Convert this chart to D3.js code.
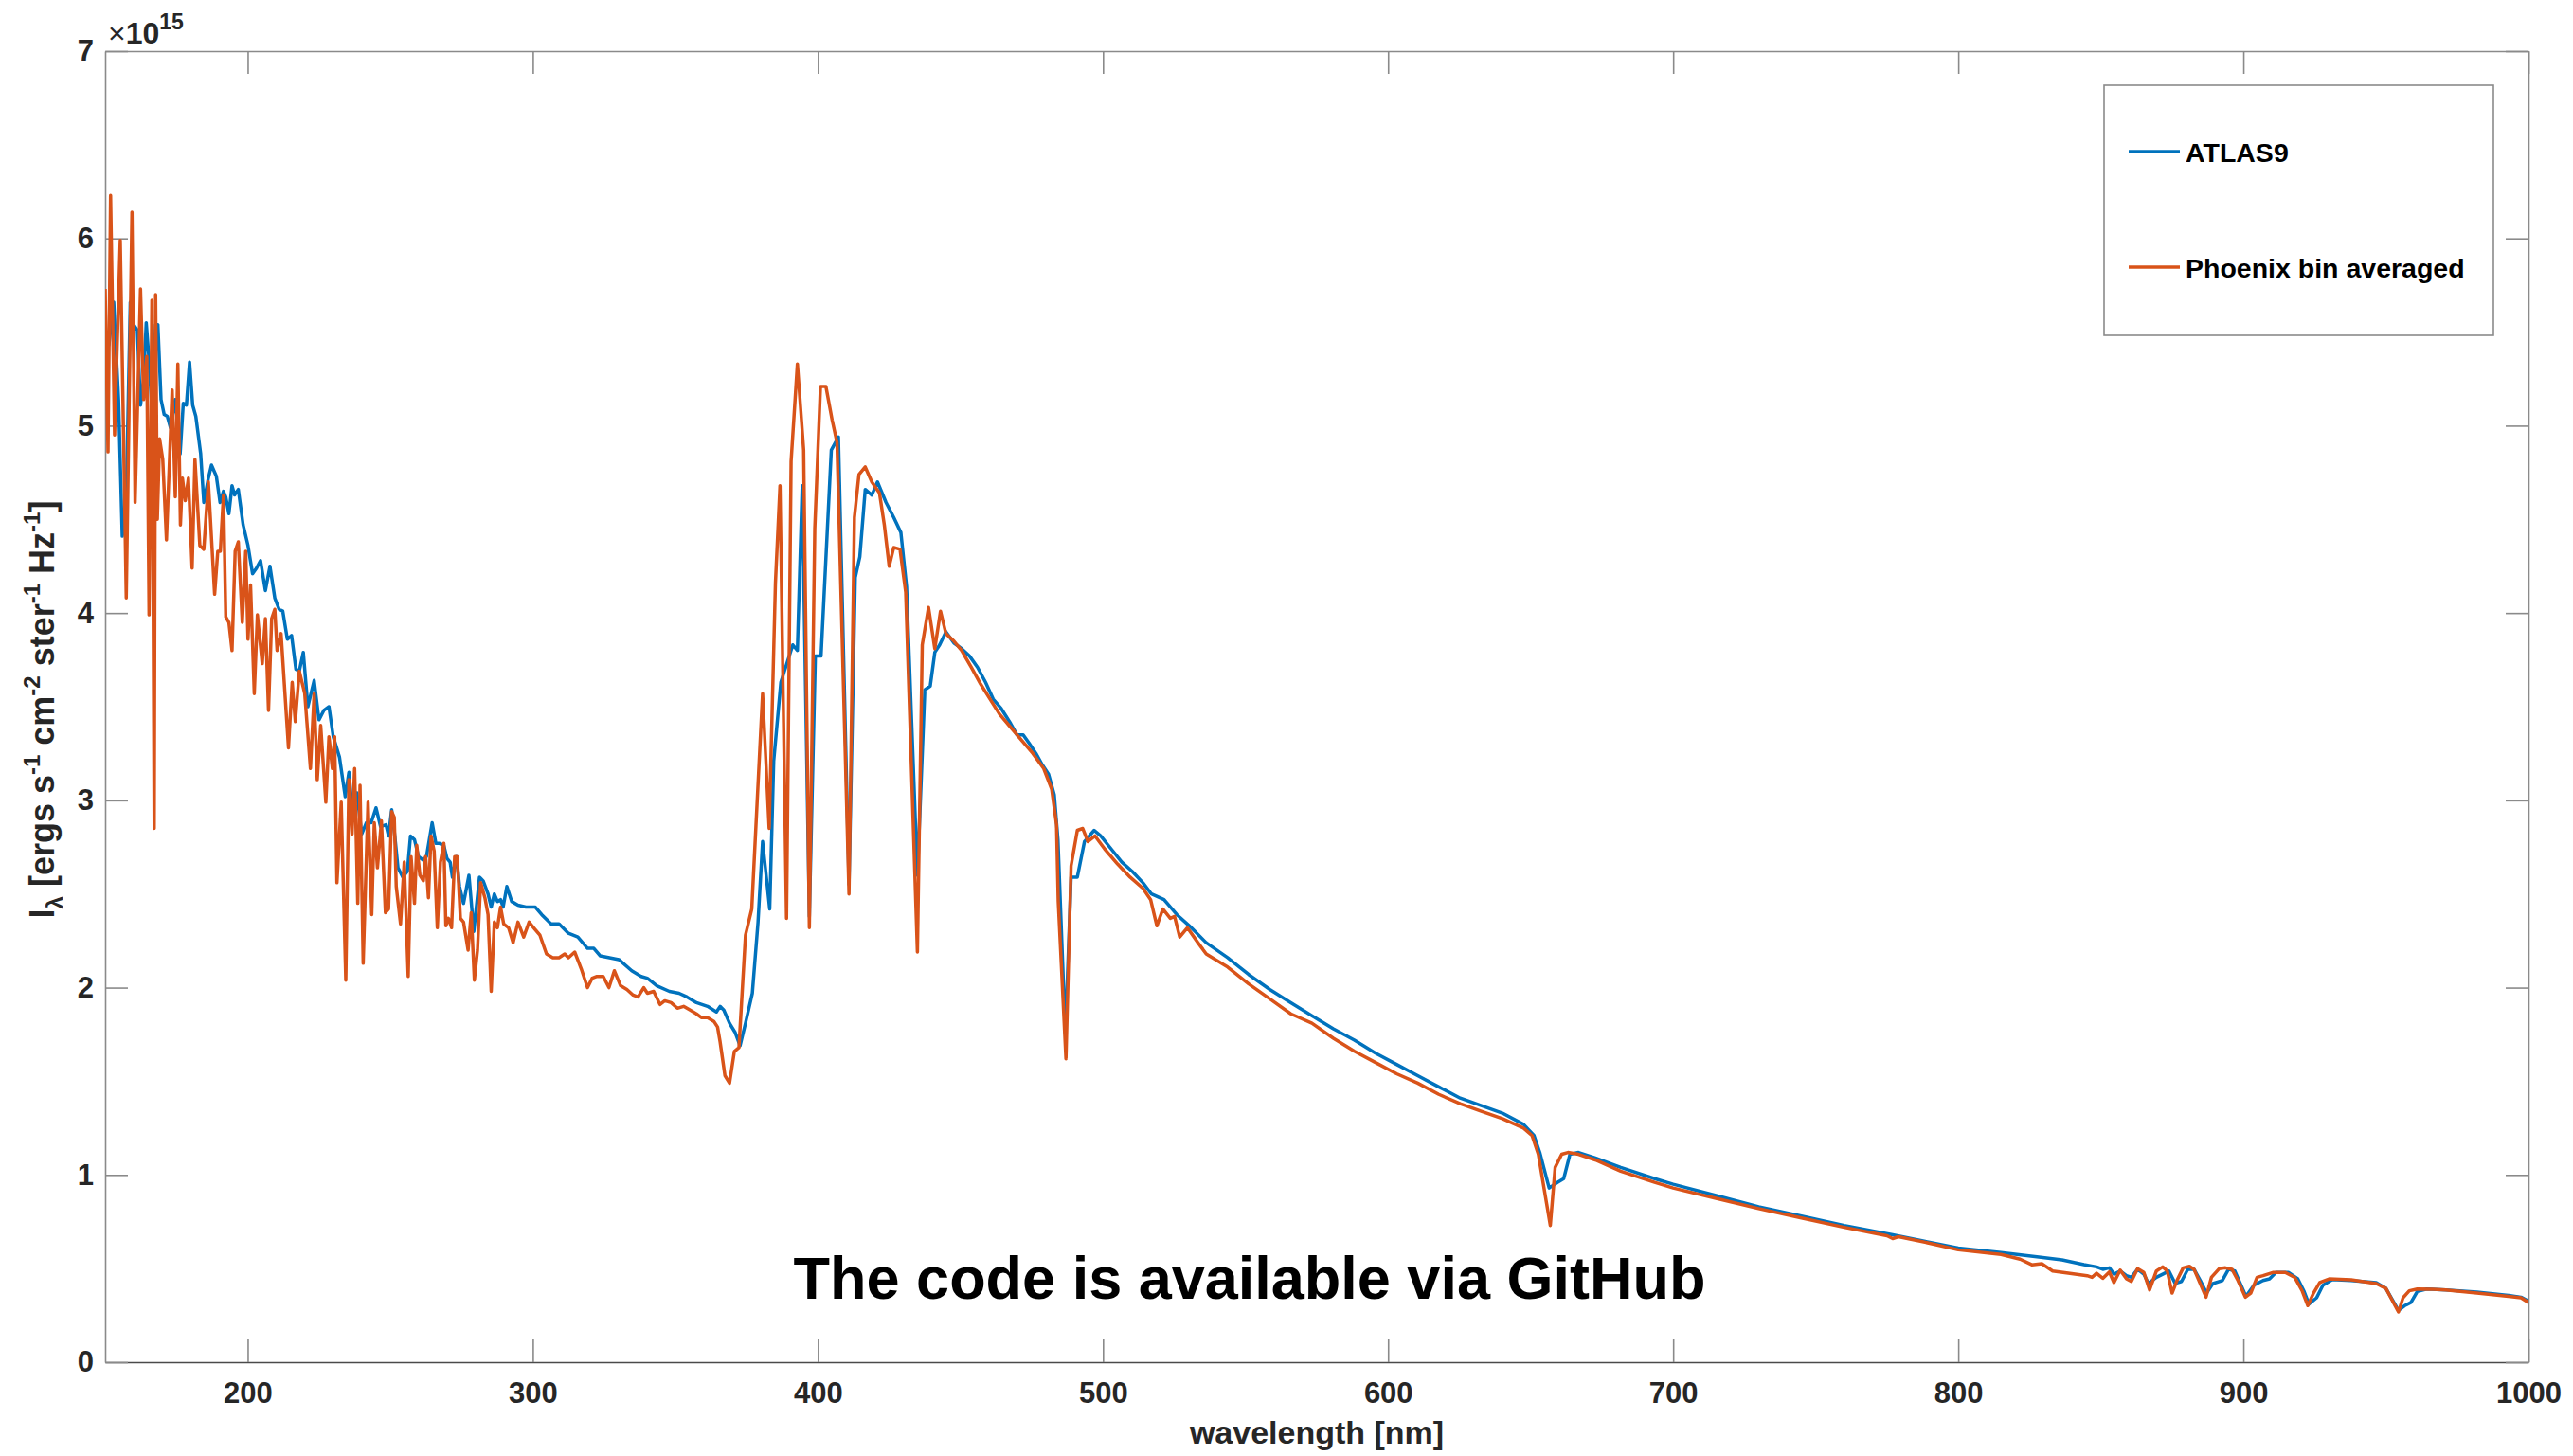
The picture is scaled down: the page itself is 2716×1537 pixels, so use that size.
<!DOCTYPE html>
<html>
<head>
<meta charset="utf-8">
<script src="https://cdn.jsdelivr.net/npm/d3@7"></script>
<style>
  html, body { margin: 0; padding: 0; background: #fff; }
  svg { display: block; font-family: "Liberation Sans", Arial, Helvetica, sans-serif; }
</style>
</head>
<body>
<svg id="chart" width="2716" height="1537"></svg>
<script>
// Specific intensity I_lambda in units of 1e15 ergs s^-1 cm^-2 ster^-1 Hz^-1

const atlasWavelength = [
  150, 151.3, 153, 154.7, 156, 157.4, 158.8, 160, 161.3, 162.4, 163.5, 164.4, 165.2, 166.3, 167.7, 168.5,
  169.6, 170.7, 171.8, 172.9, 174.6, 176.3, 177.4, 178.5, 179.6, 180.7, 181.8, 183.5, 184.6, 186.2, 187.3,
  189, 190.3, 191.5, 192.3, 193.4, 194.5, 195.4, 196.7, 198.4, 200.1, 201.7, 203.1, 204.5, 206.2, 207.8,
  209.5, 211, 212.3, 213.9, 215.4, 216.9, 218.1, 219.5, 221.1, 223.3, 225, 226.7, 228.5, 230, 232.2, 234.2,
  235.5, 236.6, 238.3, 240, 241.6, 243.3, 245, 246.6, 248.5, 249.4, 250.5, 251.6, 252.7, 254.4, 256, 257.1,
  258.5, 259.9, 261.6, 262.7, 264.7, 266, 267.3, 268.8, 269.9, 271, 271.8, 273.2, 274.3, 275.7, 277.6,
  279.3, 281.3, 282.6, 284.3, 285.4, 286.5, 287.6, 288.7, 289.6, 290.9, 292.6, 294.8, 297.6, 299.2, 300.9,
  303.1, 306.4, 309.2, 312.5, 315.8, 319.2, 321.4, 323.6, 326.9, 330.2, 334.7, 338, 340.2, 343.5, 347.9,
  351.3, 354.1, 357.4, 361.3, 364.4, 365.7, 367, 369, 371, 372.7, 374.6, 377, 379, 380.6, 383.1, 384.5,
  387, 391.2, 392.8, 394.5, 397, 399.1, 401.1, 404.7, 407.2, 410.9, 413.1, 414.7, 416.6, 418.9, 420.9,
  423.9, 426.6, 429.1, 431.1, 434.9, 437.5, 439.4, 441, 442.7, 444.9, 447.7, 450.4, 453.2, 456, 458.8,
  461.5, 464.3, 467.6, 469.8, 472, 474.3, 476.5, 478.7, 480.9, 482.9, 484.2, 486.8, 488.8, 491, 493.5,
  496.9, 499.2, 502.9, 506.6, 510.3, 514, 517, 521.4, 525.9, 530.3, 536.2, 543.7, 551.1, 558.5, 565.9,
  573.3, 580.8, 588.2, 595.6, 603, 610.4, 617.8, 625.3, 632.7, 640.1, 647.5, 651.2, 653.2, 656.5, 659.4,
  661.6, 663.8, 666.8, 672.7, 681.6, 693.5, 700, 715, 730, 745, 760, 777, 790, 800, 815, 827.6, 836.4,
  844.1, 848.5, 850.7, 853, 854.6, 856.8, 859, 860.7, 862.9, 865.1, 866.7, 869.5, 871.7, 873.9, 876.1,
  878.3, 880.5, 882.7, 884.9, 887.1, 889.3, 892.6, 894.8, 897, 900.9, 903.7, 906.9, 909.2, 911.4, 915.8,
  919.1, 921.3, 923, 925.7, 927.9, 931.2, 937.8, 946.6, 950, 954.4, 956.6, 958.8, 961, 964.3, 971, 981.9,
  993, 997.4, 1000
];
const atlasIntensity = [
  5.50, 5.43, 5.66, 5.14, 4.41, 4.61, 5.66, 5.54, 5.51, 5.11, 5.25, 5.55, 5.39, 5.11, 5.54, 5.54,
  5.14, 5.06, 5.05, 4.99, 5.14, 4.85, 5.12, 5.11, 5.34, 5.11, 5.05, 4.85, 4.59, 4.72, 4.79,
  4.73, 4.59, 4.65, 4.62, 4.53, 4.68, 4.63, 4.66, 4.47, 4.36, 4.21, 4.24, 4.28, 4.12, 4.25,
  4.08, 4.02, 4.01, 3.86, 3.88, 3.70, 3.69, 3.79, 3.50, 3.64, 3.43, 3.48, 3.50, 3.34, 3.23, 3.02,
  3.15, 2.96, 3.04, 2.82, 2.88, 2.88, 2.96, 2.86, 2.87, 2.81, 2.95, 2.81, 2.64, 2.59, 2.62, 2.81,
  2.79, 2.70, 2.68, 2.70, 2.88, 2.77, 2.77, 2.76, 2.69, 2.67, 2.59, 2.70, 2.54, 2.45, 2.60,
  2.30, 2.59, 2.57, 2.50, 2.43, 2.50, 2.46, 2.47, 2.43, 2.54, 2.46, 2.44, 2.43, 2.43, 2.43,
  2.39, 2.34, 2.34, 2.29, 2.27, 2.21, 2.21, 2.17, 2.16, 2.15, 2.09, 2.06, 2.05, 2.01, 1.98,
  1.97, 1.95, 1.92, 1.90, 1.87, 1.90, 1.88, 1.81, 1.76, 1.69, 1.81, 1.97, 2.35, 2.78, 2.42, 3.21,
  3.63, 3.83, 3.80, 4.68, 2.38, 3.77, 3.77, 4.87, 4.94, 2.55, 4.19, 4.30, 4.66, 4.63, 4.70,
  4.59, 4.51, 4.43, 4.14, 2.60, 3.59, 3.61, 3.79, 3.83, 3.90, 3.84, 3.81, 3.77, 3.71, 3.63,
  3.54, 3.49, 3.41, 3.35, 3.35, 3.30, 3.25, 3.19, 3.14, 3.03, 2.79, 1.75, 2.59, 2.59, 2.78,
  2.84, 2.81, 2.74, 2.67, 2.62, 2.56, 2.50, 2.47, 2.39, 2.33, 2.24, 2.16, 2.07, 1.99, 1.92,
  1.85, 1.78, 1.72, 1.65, 1.59, 1.53, 1.47, 1.41, 1.37, 1.33, 1.27, 1.21, 1.12, 0.93, 0.96,
  0.98, 1.11, 1.12, 1.09, 1.04, 0.98, 0.95, 0.89, 0.83, 0.78, 0.73, 0.68, 0.64, 0.61, 0.585, 0.563, 0.546,
  0.521, 0.509, 0.496, 0.504, 0.470, 0.487, 0.462, 0.453, 0.496, 0.470, 0.420, 0.453, 0.470, 0.487, 0.420,
  0.431, 0.496, 0.496, 0.436, 0.369, 0.420, 0.436, 0.496, 0.487, 0.352, 0.411, 0.436, 0.445, 0.479, 0.479,
  0.445, 0.378, 0.310, 0.344, 0.411, 0.441, 0.436, 0.425, 0.394, 0.276, 0.302, 0.319, 0.378, 0.391, 0.386, 0.374,
  0.357, 0.347, 0.327
];

const phoenixWavelength = [
  150, 151, 151.9, 153.3, 155.3, 157.4, 159.4, 160.5, 162.4, 163.5, 164.6, 165.4, 166.4, 167.2, 167.7,
  168.3, 169.1, 170.2, 171.5, 173.5, 174.6, 175.5, 176.4, 177.1, 178.1, 179.2, 180.5, 181.5, 183.2, 184.6,
  186.2, 188.4, 189.5, 190.4, 191.5, 192.3, 193.4, 194.5, 195.6, 196.7, 198.1, 199.3, 200.1, 201, 202.3,
  203.4, 205.1, 206.2, 207.3, 208.4, 209.5, 210.3, 211.7, 214.3, 215.6, 216.7, 218.1, 220, 222, 223.3,
  224.4, 225.6, 227.4, 228.5, 229.7, 230.5, 231.3, 232.8, 234.4, 235.5, 236.6, 237.5, 238.6, 239.4, 240.5,
  242.2, 243.5, 244.4, 245.5, 246.9, 248.3, 249.4, 250.5, 251.4, 252.1, 253.6, 254.9, 256.3, 257.3, 258.5,
  259.3, 260.4, 261.6, 262.4, 263.4, 264.3, 265.4, 266.5, 267.6, 268.8, 269.5, 270.4, 271.5, 272.6, 273.5,
  274.6, 275.7, 277.3, 278.4, 279.5, 280.6, 281.7, 283.2, 284.3, 285.4, 286.5, 287.6, 288.7, 289.8, 291.5,
  293.1, 294.8, 296.8, 298.7, 300.3, 302.5, 304.8, 307, 309.2, 311.2, 312.5, 314.7, 317, 319.2, 320.8,
  322.5, 324.7, 326.7, 328.6, 330.8, 333, 335.2, 336.9, 338.9, 340.2, 342.4, 344.6, 346.3, 348.5, 350.7,
  352.9, 355.2, 357.4, 359.1, 361.3, 363.5, 364.8, 365.7, 367.4, 369, 370.7, 372.3, 374.6, 376.8, 380.6,
  382.9, 385.1, 386.7, 389, 390.6, 392.8, 395, 397, 398.9, 400.9, 402.8, 405, 406.7, 410.9, 412.8, 414.4,
  416.6, 418.9, 421.6, 423.3, 425, 426.6, 428.8, 430.8, 434.9, 436.6, 438.8, 441, 443, 444.9, 447.7,
  450.4, 453.8, 457.1, 460.4, 463.7, 467.6, 471.5, 475.4, 479.2, 482, 483.7, 484.3, 487, 488.8, 491,
  492.9, 494.7, 497.2, 500.6, 505.1, 509.5, 514, 516.7, 518.9, 521, 523.6, 525.1, 526.9, 529.6, 533.3,
  536.2, 543.7, 551.1, 558.5, 565.9, 573.3, 580.8, 588.2, 595.6, 603, 610.4, 617.8, 625.3, 632.7, 640.1,
  647.5, 650.5, 652.7, 656.9, 658.6, 660.9, 663.1, 666.8, 672.7, 681.6, 693.5, 700, 715, 730, 745, 760,
  775, 777, 779, 790, 800, 815, 821.7, 825.8, 829.3, 833.1, 838.6, 845.2, 846.9, 848.5, 850.7, 853,
  854.6, 856.8, 859, 860.7, 862.9, 865.1, 867.1, 869.5, 871.7, 873.3, 875, 876.7, 878.9, 881.1, 882.7,
  886.9, 888.8, 891.5, 893.7, 896, 898.1, 900.7, 902.6, 904.8, 906.9, 910.3, 914.7, 918, 920.7, 922.6,
  924.6, 926.8, 930.1, 937.8, 946.6, 950, 954.4, 956, 958.2, 961, 966.5, 971, 981.9, 993, 997.4, 1000
];
const phoenixIntensity = [
  5.73, 4.86, 6.23, 4.95, 5.99, 4.08, 6.14, 4.59, 5.73, 5.14, 5.37, 3.99, 5.67, 2.85, 5.70,
  4.50, 4.93, 4.82, 4.39, 5.19, 4.62, 5.33, 4.47, 4.72, 4.60, 4.72, 4.24, 4.82, 4.36, 4.34,
  4.70, 4.10, 4.33, 4.33, 4.63, 3.98, 3.95, 3.80, 4.33, 4.38, 3.95, 4.33, 3.86, 4.15, 3.57,
  3.99, 3.73, 3.97, 3.48, 3.97, 4.02, 3.80, 3.89, 3.28, 3.63, 3.42, 3.69, 3.57, 3.17, 3.57,
  3.11, 3.40, 2.99, 3.34, 3.17, 3.34, 2.56, 2.99, 2.04, 3.11, 2.82, 3.17, 2.45, 3.08, 2.13,
  2.99, 2.39, 2.88, 2.64, 2.89, 2.40, 2.42, 2.94, 2.91, 2.54, 2.34, 2.67, 2.06, 2.70, 2.45,
  2.76, 2.60, 2.57, 2.70, 2.48, 2.81, 2.73, 2.32, 2.67, 2.77, 2.33, 2.37, 2.32, 2.70, 2.70,
  2.37, 2.35, 2.20, 2.40, 2.04, 2.20, 2.56, 2.48, 2.39, 1.98, 2.35, 2.32, 2.43, 2.34, 2.32,
  2.24, 2.35, 2.27, 2.35, 2.32, 2.28, 2.18, 2.16, 2.16, 2.18, 2.16, 2.19, 2.10, 2.00, 2.05,
  2.06, 2.06, 2.00, 2.09, 2.01, 1.99, 1.96, 1.95, 2.00, 1.97, 1.98, 1.91, 1.93, 1.92, 1.89,
  1.90, 1.88, 1.86, 1.84, 1.84, 1.82, 1.79, 1.71, 1.53, 1.49, 1.66, 1.68, 2.28, 2.42, 3.57,
  2.85, 4.16, 4.68, 2.37, 4.81, 5.33, 4.87, 2.32, 4.45, 5.21, 5.21, 5.03, 4.91, 2.50, 4.51, 4.74,
  4.78, 4.70, 4.64, 4.47, 4.25, 4.35, 4.34, 4.11, 2.19, 3.83, 4.03, 3.81, 4.01, 3.89, 3.85,
  3.80, 3.71, 3.62, 3.54, 3.46, 3.39, 3.32, 3.25, 3.17, 3.06, 2.87, 2.46, 1.62, 2.65, 2.84,
  2.85, 2.78, 2.81, 2.74, 2.66, 2.59, 2.53, 2.47, 2.33, 2.42, 2.37, 2.38, 2.27, 2.32, 2.24,
  2.18, 2.11, 2.02, 1.94, 1.86, 1.81, 1.73, 1.66, 1.60, 1.54, 1.49, 1.43, 1.38, 1.34, 1.30,
  1.25, 1.21, 1.11, 0.73, 1.04, 1.11, 1.12, 1.11, 1.08, 1.02, 0.96, 0.93, 0.875, 0.82, 0.77, 0.72,
  0.675, 0.66, 0.67, 0.635, 0.60, 0.575, 0.55, 0.52, 0.526, 0.487, 0.475, 0.462, 0.453, 0.475, 0.448, 0.482,
  0.425, 0.492, 0.445, 0.431, 0.499, 0.479, 0.386, 0.487, 0.509, 0.487, 0.369, 0.436, 0.504, 0.512, 0.496,
  0.347, 0.453, 0.499, 0.504, 0.496, 0.436, 0.347, 0.369, 0.453, 0.462, 0.479, 0.479, 0.453, 0.378, 0.302,
  0.369, 0.425, 0.445, 0.440, 0.420, 0.394, 0.268, 0.344, 0.381, 0.391, 0.389, 0.386, 0.369, 0.352, 0.344, 0.319
];

const seriesNames = ["ATLAS9", "Phoenix bin averaged"];
const seriesColors = ["#0072BD", "#D95319"];
const xTickValues = [200, 300, 400, 500, 600, 700, 800, 900, 1000];
const yTickValues = [0, 1, 2, 3, 4, 5, 6, 7];
const xLabel = "wavelength [nm]";
const exponentLabel = "15";
const noteText = "The code is available via GitHub";

const svg = d3.select("#chart");
const plotLeft = 111, plotRight = 2669, plotTop = 54, plotBottom = 1438;

const x = d3.scaleLinear().domain([150, 1000]).range([plotLeft, plotRight]);
const y = d3.scaleLinear().domain([0, 7]).range([plotBottom, plotTop]);

const textColor = "#262626";
const tickLen = 24;
const plainNumber = d3.format("d");

// axes: labelled bottom/left, bare ticks on top/right to close the box
const gx = svg.append("g").attr("transform", `translate(0,${plotBottom})`)
  .call(d3.axisBottom(x).tickValues(xTickValues).tickFormat(plainNumber)
    .tickSizeInner(-tickLen).tickSizeOuter(0).tickPadding(21));
const gy = svg.append("g").attr("transform", `translate(${plotLeft},0)`)
  .call(d3.axisLeft(y).tickValues(yTickValues).tickFormat(plainNumber)
    .tickSizeInner(-tickLen).tickSizeOuter(0).tickPadding(12));
const gt = svg.append("g").attr("transform", `translate(0,${plotTop})`)
  .call(d3.axisTop(x).tickValues(xTickValues).tickSizeInner(-tickLen).tickSizeOuter(0).tickFormat(""));
const gr = svg.append("g").attr("transform", `translate(${plotRight},0)`)
  .call(d3.axisRight(y).tickValues(yTickValues).tickSizeInner(-tickLen).tickSizeOuter(0).tickFormat(""));

[gx, gy, gt, gr].forEach(g => {
  g.select(".domain").attr("stroke", "#8a8a8a").attr("stroke-width", 1.6);
  g.selectAll(".tick line").attr("stroke", "#8a8a8a").attr("stroke-width", 1.6);
  g.selectAll(".tick text")
    .attr("fill", textColor)
    .style("font-family", "'Liberation Sans', Arial, sans-serif")
    .style("font-size", "31px")
    .style("font-weight", "bold");
});
gx.select(".domain").attr("stroke", "#4a4a4a");

// spectra
const atlas = atlasWavelength.map((w, i) => [w, atlasIntensity[i]]);
const phoenix = phoenixWavelength.map((w, i) => [w, phoenixIntensity[i]]);
const line = d3.line().x(d => x(d[0])).y(d => y(d[1]));

svg.append("defs").append("clipPath").attr("id", "plotclip")
  .append("rect").attr("x", plotLeft).attr("y", plotTop)
  .attr("width", plotRight - plotLeft).attr("height", plotBottom - plotTop);

const plot = svg.append("g").attr("clip-path", "url(#plotclip)");
[atlas, phoenix].forEach((data, i) => {
  plot.append("path")
    .datum(data)
    .attr("d", line)
    .attr("fill", "none")
    .attr("stroke", seriesColors[i])
    .attr("stroke-width", 3.5)
    .attr("stroke-linejoin", "round");
});

// exponent multiplier above the y axis
const expo = svg.append("text")
  .attr("x", 114).attr("y", 46)
  .attr("fill", textColor)
  .style("font-size", "32px");
expo.append("tspan").text("\u00d7");
expo.append("tspan").style("font-weight", "bold").text("10");
expo.append("tspan").attr("dy", -15).style("font-size", "23px").style("font-weight", "bold").text(exponentLabel);

// axis titles
svg.append("text")
  .attr("x", (plotLeft + plotRight) / 2).attr("y", 1524)
  .attr("text-anchor", "middle")
  .attr("fill", textColor)
  .style("font-size", "34px").style("font-weight", "bold")
  .text(xLabel);

const yl = svg.append("text")
  .attr("transform", "translate(57,749) rotate(-90)")
  .attr("text-anchor", "middle")
  .attr("fill", textColor)
  .style("font-size", "36px").style("font-weight", "bold");
const supSize = "24px";
yl.append("tspan").text("I");
yl.append("tspan").attr("dy", 9).style("font-size", supSize).text("\u03bb");
yl.append("tspan").attr("dy", -9).text(" [ergs s");
yl.append("tspan").attr("dy", -15).style("font-size", supSize).text("-1");
yl.append("tspan").attr("dy", 15).text(" cm");
yl.append("tspan").attr("dy", -15).style("font-size", supSize).text("-2");
yl.append("tspan").attr("dy", 15).text(" ster");
yl.append("tspan").attr("dy", -15).style("font-size", supSize).text("-1");
yl.append("tspan").attr("dy", 15).text(" Hz");
yl.append("tspan").attr("dy", -15).style("font-size", supSize).text("-1");
yl.append("tspan").attr("dy", 15).text("]");

// legend
const legend = svg.append("g");
legend.append("rect")
  .attr("x", 2221).attr("y", 90).attr("width", 411).attr("height", 264)
  .attr("fill", "#fff").attr("stroke", "#8a8a8a").attr("stroke-width", 1.6);
const legendRows = [160, 282];
seriesNames.forEach((name, i) => {
  legend.append("line")
    .attr("x1", 2247).attr("x2", 2301)
    .attr("y1", legendRows[i]).attr("y2", legendRows[i])
    .attr("stroke", seriesColors[i]).attr("stroke-width", 3.5);
  legend.append("text")
    .attr("x", 2307).attr("y", legendRows[i] + 11)
    .attr("fill", "#000")
    .style("font-size", "28.5px").style("font-weight", "bold")
    .text(name);
});

// note inside the plot area
svg.append("text")
  .attr("x", 1319).attr("y", 1371)
  .attr("text-anchor", "middle")
  .attr("fill", "#000")
  .style("font-size", "63px").style("font-weight", "bold")
  .text(noteText);
</script>
</body>
</html>
